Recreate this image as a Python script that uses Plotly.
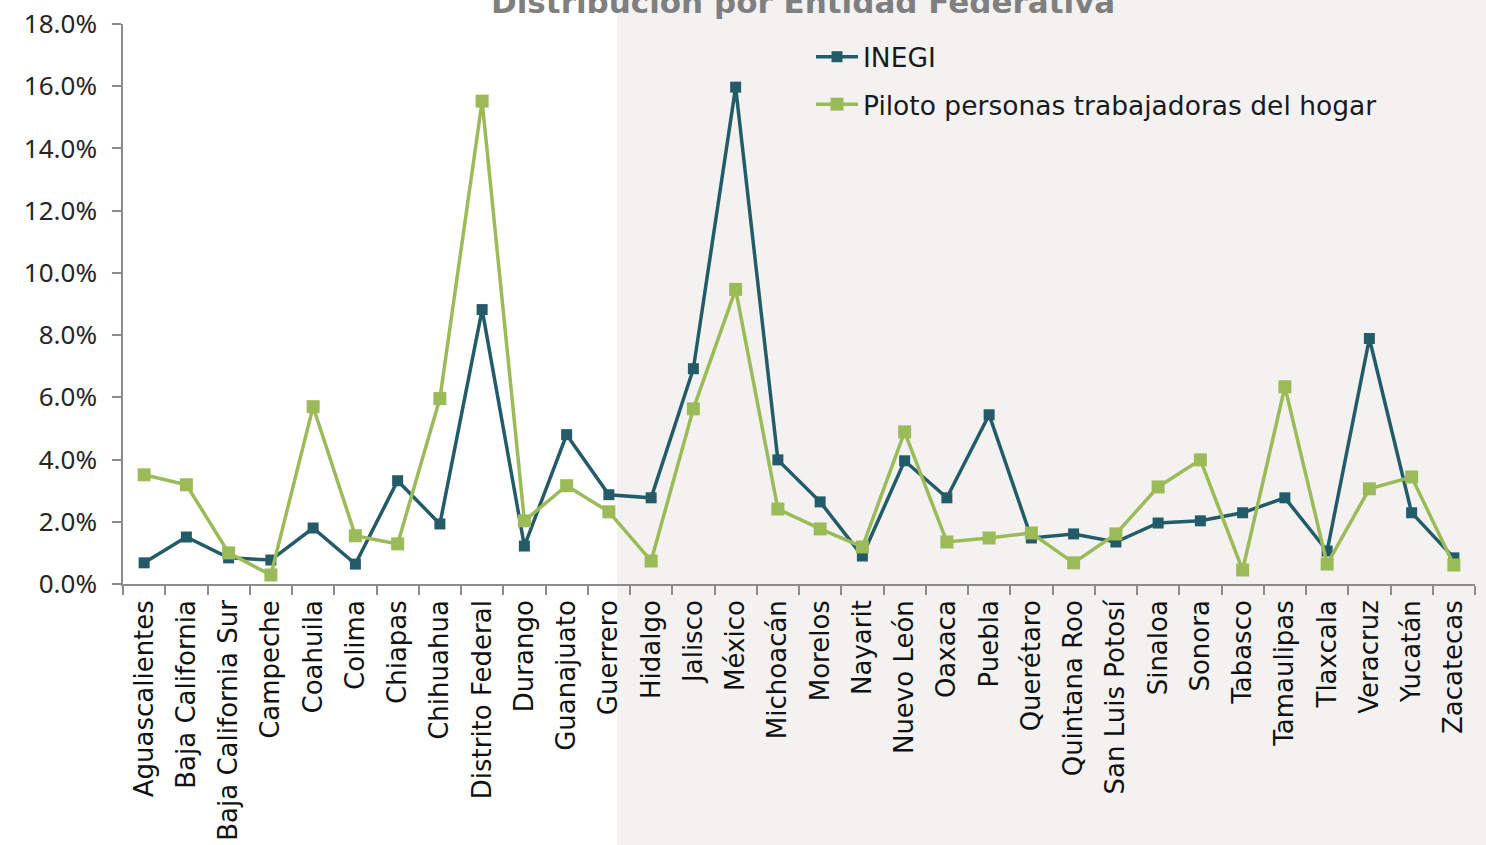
import plotly.graph_objects as go

estados = ["Aguascalientes", "Baja California", "Baja California Sur", "Campeche", "Coahuila",
           "Colima", "Chiapas", "Chihuahua", "Distrito Federal", "Durango", "Guanajuato",
           "Guerrero", "Hidalgo", "Jalisco", "México", "Michoacán", "Morelos", "Nayarit",
           "Nuevo León", "Oaxaca", "Puebla", "Querétaro", "Quintana Roo", "San Luis Potosí",
           "Sinaloa", "Sonora", "Tabasco", "Tamaulipas", "Tlaxcala", "Veracruz", "Yucatán",
           "Zacatecas"]

inegi = [0.68, 1.51, 0.84, 0.77, 1.80, 0.64, 3.32, 1.93, 8.82, 1.22, 4.80, 2.87, 2.77,
         6.92, 15.97, 3.99, 2.64, 0.90, 3.96, 2.77, 5.44, 1.48, 1.61, 1.35, 1.96, 2.03,
         2.29, 2.77, 1.06, 7.89, 2.29, 0.84]

piloto = [3.51, 3.19, 1.00, 0.29, 5.70, 1.55, 1.29, 5.96, 15.52, 2.03, 3.16, 2.32, 0.74,
          5.63, 9.47, 2.41, 1.77, 1.19, 4.89, 1.35, 1.48, 1.64, 0.68, 1.61, 3.12, 3.99,
          0.45, 6.34, 0.64, 3.06, 3.44, 0.61]

titulo = "Distribución por Entidad Federativa"

fig = go.Figure()
fig.add_trace(go.Scatter(x=estados, y=inegi, name="INEGI", mode="lines+markers",
                         line=dict(color="#235b68", width=3.5),
                         marker=dict(symbol="square", size=11, color="#235b68"),
                         legendgroup="a"))
fig.add_trace(go.Scatter(x=estados, y=piloto, name="Piloto personas trabajadoras del hogar",
                         mode="lines+markers",
                         line=dict(color="#9bbb59", width=3.5),
                         marker=dict(symbol="square", size=13, color="#9bbb59"),
                         legendgroup="b"))

L, R, T, B = 123, 11, 24, 261
W, H = 1486, 845
pw = W - L - R
ph = H - T - B

fig.update_layout(
    width=W, height=H,
    margin=dict(l=L, r=R, t=T, b=B, autoexpand=False),
    paper_bgcolor="white", plot_bgcolor="rgba(0,0,0,0)",
    showlegend=True,
    hovermode=False,
    font=dict(family="DejaVu Sans", color="#262626"),
    legend=dict(x=(811 - L) / pw, y=(584 - 33) / ph, xanchor="left", yanchor="top",
                bgcolor="rgba(0,0,0,0)", font=dict(size=26.5, color="#1a1a1a", family="DejaVu Sans"),
                itemwidth=42, tracegroupgap=10),
    shapes=[dict(type="rect", xref="paper", yref="paper",
                 x0=(617 - L) / pw, x1=1.2, y0=-1, y1=2,
                 fillcolor="#f3f2f1", line=dict(width=0), layer="below")],
    annotations=[dict(text="<b>" + titulo + "</b>", xref="paper", yref="paper",
                      x=(803 - L) / pw, y=(584 - 22) / ph, xanchor="center", yanchor="bottom",
                      showarrow=False, font=dict(size=31, color="#7f7f7f", family="DejaVu Sans"))],
)

fig.update_xaxes(type="category", range=[-0.5, 31.5], showline=True, linecolor="#8c8c8c",
                 linewidth=1.5, ticks="outside", tickson="boundaries", ticklen=9,
                 tickcolor="#8c8c8c", tickwidth=1.5, tickangle=-90, showgrid=False,
                 automargin=False, ticklabelstandoff=4,
                 tickfont=dict(size=26, color="#111111", family="DejaVu Sans"))
fig.update_yaxes(range=[0, 18], dtick=2, tickformat=".1f", ticksuffix="%", showline=True,
                 linecolor="#8c8c8c", linewidth=1.5, ticks="outside", ticklen=9,
                 tickcolor="#8c8c8c", tickwidth=1.5, showgrid=False, zeroline=False,
                 ticklabelstandoff=10, automargin=False,
                 tickfont=dict(size=26, color="#262626", family="Noto Sans"))

fig.write_html("out.html", config={"displayModeBar": False},
               post_script="document.body.style.margin='0';")
